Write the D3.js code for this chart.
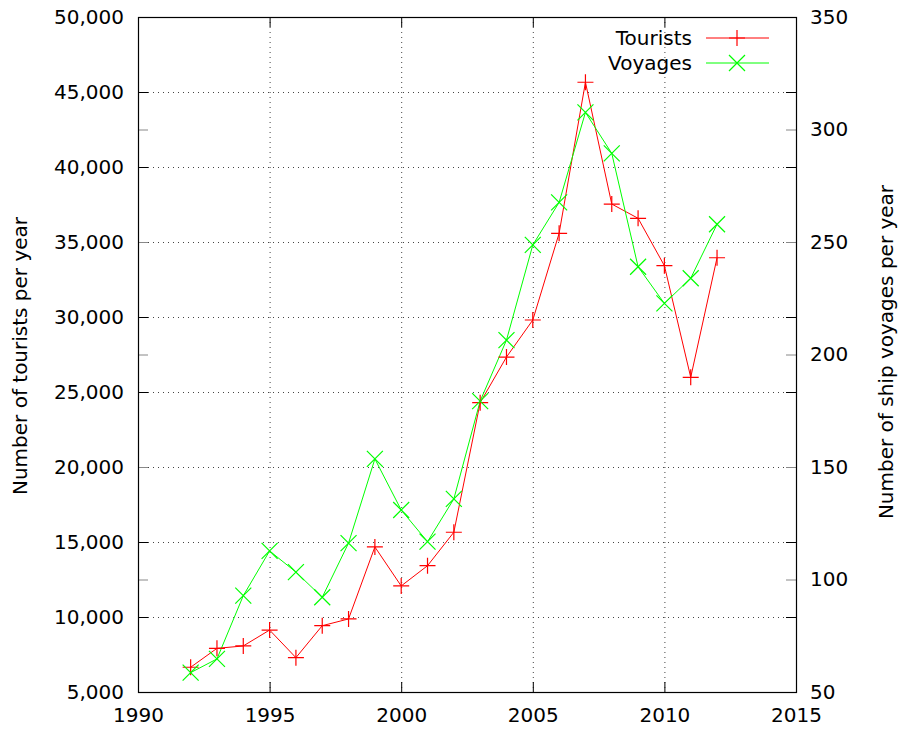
<!DOCTYPE html>
<html><head><meta charset="utf-8">
<script src="https://cdn.jsdelivr.net/npm/d3@7"></script>
<style>body{margin:0;background:#fff}svg{display:block}text{font-family:"DejaVu Sans",sans-serif;font-size:20px;fill:#000}</style>
</head><body><svg id="c" width="905" height="736"></svg>
<script>
const years = [1992,1993,1994,1995,1996,1997,1998,1999,2000,2001,2002,2003,2004,2005,2006,2007,2008,2009,2010,2011,2012];
const tourists = [6650,7910,8070,9130,7290,9420,9870,14670,12070,13420,15650,24290,27330,29800,35580,45650,37530,36580,33420,25980,33950];
const voyages = [58.6,64.7,92.8,112.7,103.3,92.1,116.2,153.6,130.9,116.8,135.8,179.3,206.4,248.7,267.6,307.6,289.4,239,222.7,233.9,257.9];
const xTicks = [1990,1995,2000,2005,2010,2015];
const yLeftTicks = [5000,10000,15000,20000,25000,30000,35000,40000,45000,50000];
const yRightTicks = [50,100,150,200,250,300,350];
const seriesNames = ["Tourists","Voyages"];

const L=138,R=796,T=17,B=692;
const svg=d3.select("#c");
const x=d3.scaleLinear().domain([1990,2015]).range([L,R]);
const yL=d3.scaleLinear().domain([5000,50000]).range([B,T]);
const yR=d3.scaleLinear().domain([50,350]).range([B,T]);
const fmt=d3.format(",");

// grid
const g=svg.append("g");
g.selectAll(".gx").data(xTicks.slice(1,-1)).enter().append("line")
 .attr("x1",d=>x(d)+0.5).attr("x2",d=>x(d)+0.5).attr("y1",T).attr("y2",B)
 .attr("stroke","#444").attr("stroke-dasharray","1,4");
g.selectAll(".gy").data(yLeftTicks.slice(1,-1)).enter().append("line")
 .attr("x1",L).attr("x2",R).attr("y1",d=>yL(d)+0.5).attr("y2",d=>yL(d)+0.5)
 .attr("stroke","#444").attr("stroke-dasharray","1,4");

// axes with inward ticks
const axL=d3.axisLeft(yL).tickValues(yLeftTicks).tickFormat(fmt).tickSize(-10).tickPadding(14);
const axLm=d3.axisRight(yL).tickValues(yLeftTicks).tickFormat("").tickSize(-10);
const axR=d3.axisRight(yR).tickValues(yRightTicks).tickSize(-10).tickPadding(14);
const axRm=d3.axisLeft(yR).tickValues(yRightTicks).tickFormat("").tickSize(-10);
const axB=d3.axisBottom(x).tickValues(xTicks).tickFormat(d3.format("d")).tickSize(-10).tickPadding(16);
const axT=d3.axisTop(x).tickValues(xTicks).tickFormat("").tickSize(-10);

function style(sel){sel.select(".domain").remove();sel.selectAll("text").style("font-size","20px").style("font-family","DejaVu Sans").attr("fill","#000");sel.selectAll("line").attr("stroke","#000");}
svg.append("g").attr("transform",`translate(${L},0)`).call(axL).call(style);
svg.append("g").attr("transform",`translate(${R},0)`).call(axLm).call(style);
svg.append("g").attr("transform",`translate(${R},0)`).call(axR).call(style).selectAll("line").attr("stroke","#888");
svg.append("g").attr("transform",`translate(${L},0)`).call(axRm).call(style).selectAll("line").attr("stroke","#888");
svg.append("g").attr("transform",`translate(0,${B})`).call(axB).call(style);
svg.append("g").attr("transform",`translate(0,${T})`).call(axT).call(style);

svg.append("rect").attr("x",L+0.5).attr("y",T+0.5).attr("width",R-L).attr("height",B-T)
 .attr("fill","none").attr("stroke","#000").attr("stroke-width",1.2);

// labels
svg.append("text").attr("transform",`translate(27,356) rotate(-90)`).attr("text-anchor","middle").text("Number of tourists per year");
svg.append("text").attr("transform",`translate(893,352) rotate(-90)`).attr("text-anchor","middle").text("Number of ship voyages per year");

// series
const red="#ff0000",green="#00ff00";
function plus(sel,c){sel.append("path").attr("d","M-8,0H8M0,-8V8").attr("stroke",c).attr("stroke-width",1.2).attr("fill","none");}
function cross(sel,c){sel.append("path").attr("d","M-8,-8L8,8M-8,8L8,-8").attr("stroke",c).attr("stroke-width",1.2).attr("fill","none");}

const lt=d3.line().x((d,i)=>x(years[i])).y(d=>yL(d));
const lv=d3.line().x((d,i)=>x(years[i])).y(d=>yR(d));
svg.append("path").attr("d",lt(tourists)).attr("fill","none").attr("stroke",red).attr("stroke-width",1);
svg.append("path").attr("d",lv(voyages)).attr("fill","none").attr("stroke",green).attr("stroke-width",1);
svg.selectAll(".mt").data(tourists).enter().append("g").attr("transform",(d,i)=>`translate(${x(years[i])},${yL(d)})`).each(function(){plus(d3.select(this),red);});
svg.selectAll(".mv").data(voyages).enter().append("g").attr("transform",(d,i)=>`translate(${x(years[i])},${yR(d)})`).each(function(){cross(d3.select(this),green);});

// legend
const leg=[{n:seriesNames[0],c:red,m:plus,y:38},{n:seriesNames[1],c:green,m:cross,y:63}];
leg.forEach(o=>{
 svg.append("text").attr("x",692).attr("y",o.y+7).attr("text-anchor","end").text(o.n);
 svg.append("line").attr("x1",706).attr("x2",769).attr("y1",o.y).attr("y2",o.y).attr("stroke",o.c);
 const gg=svg.append("g").attr("transform",`translate(737,${o.y})`); o.m(gg,o.c);
});
</script></body></html>
